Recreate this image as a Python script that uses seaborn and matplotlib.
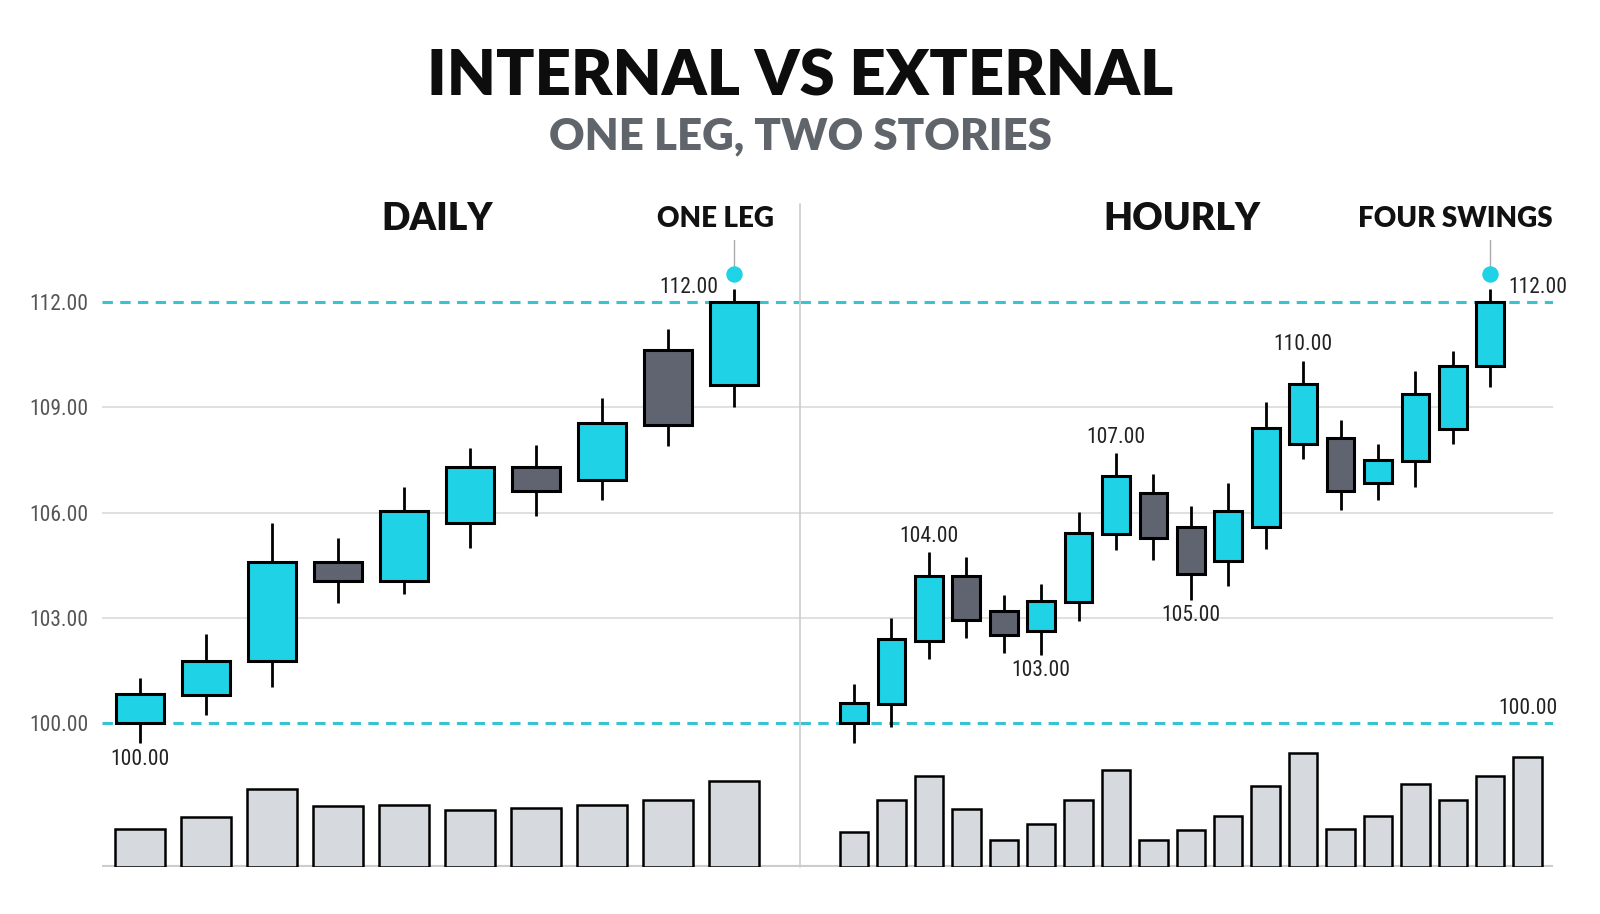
import numpy as np
import pandas as pd
import matplotlib
matplotlib.use("Agg")
import matplotlib.pyplot as plt
import seaborn as sns

# daily candles (open, high, low, close)
daily_open = [100.00, 100.81, 101.76, 104.60, 104.05, 105.70, 107.29, 106.92, 110.63, 109.63]
daily_high = [101.29, 102.54, 105.71, 105.26, 106.72, 107.84, 107.91, 109.26, 111.23, 112.36]
daily_low = [99.42, 100.24, 101.04, 103.42, 103.68, 104.99, 105.89, 106.37, 107.89, 109.00]
daily_close = [100.83, 101.78, 104.59, 104.05, 106.03, 107.30, 106.62, 108.54, 108.50, 112.00]
daily_vol = [113, 150, 235, 182, 187, 171, 177, 185, 201, 258]

# hourly candles
hourly_open = [100.00, 100.53, 102.34, 104.20, 103.19, 102.62, 103.45, 105.40, 106.56,
               105.58, 104.61, 105.60, 107.95, 108.13, 106.84, 107.47, 108.37, 110.16]
hourly_high = [101.12, 102.98, 104.87, 104.74, 103.65, 103.96, 106.01, 107.69, 107.11,
               106.19, 106.84, 109.14, 110.32, 108.63, 107.94, 110.02, 110.60, 112.38]
hourly_low = [99.42, 99.90, 101.82, 102.43, 101.99, 101.95, 102.91, 104.94, 104.65,
              103.51, 103.90, 104.97, 107.53, 106.06, 106.37, 106.74, 107.94, 109.58]
hourly_close = [100.56, 102.39, 104.20, 102.93, 102.50, 103.47, 105.42, 107.05, 105.28,
                104.24, 106.03, 108.41, 109.65, 106.62, 107.51, 109.38, 110.18, 112.00]
hourly_vol = [104, 201, 273, 174, 80, 129, 201, 291, 80, 111, 153, 243, 343, 114,
              153, 250, 201, 273, 329]

levels = [100.0, 112.0]
grid_ticks = [100, 103, 106, 109, 112]

# swing labels: (candle index, "high"/"low", text)
daily_marks = [(0, "low", "100.00")]
hourly_marks = [(2, "high", "104.00"), (5, "low", "103.00"), (7, "high", "107.00"),
                (9, "low", "105.00"), (12, "high", "110.00")]

CYAN = "#1fd2e6"
DARK = "#5f6470"
LINE = "#38c3d0"
NARROW = ["Liberation Sans Narrow", "Roboto Condensed", "DejaVu Sans"]
BOLD = ["Lato", "DejaVu Sans"]
num_font = dict(family=NARROW, stretch="condensed")
NUM_SIZE = 15.5

sns.set_theme(style="white")
plt.rcParams["font.family"] = ["Lato", "DejaVu Sans"]

fig = plt.figure(figsize=(16, 9.14), dpi=100)
W, H = 1568, 896


def box(x0, y0, x1, y1):
    return [x0 / W, 1 - y1 / H, (x1 - x0) / W, (y1 - y0) / H]


ax_d = fig.add_axes(box(100, 190, 784, 735))
ax_h = fig.add_axes(box(784, 190, 1522, 735), sharey=ax_d)
vax_d = fig.add_axes(box(100, 730, 784, 850))
vax_h = fig.add_axes(box(784, 730, 1522, 850))

d_xlim = (-0.572, 10.0)
h_xlim = (-1.445, 18.68)


def candles(ax, o, h, l, c, width):
    o, h, l, c = map(np.asarray, (o, h, l, c))
    x = np.arange(len(o))
    up = c >= o
    cols = np.where(up, CYAN, DARK)
    ax.vlines(x, l, h, color="black", lw=2, zorder=3)
    ax.bar(x, np.abs(c - o), bottom=np.minimum(o, c), width=width,
           color=cols, edgecolor="black", linewidth=2.2, zorder=4)


for ax in (ax_d, ax_h):
    ax.set_facecolor("none")
    for t in grid_ticks[1:-1]:
        ax.axhline(t, color="#dddddd", lw=1.3, zorder=1)
    for lv in levels:
        ax.axhline(lv, color=LINE, lw=2.2, ls=(0, (3.4, 2.4)), zorder=2)
    ax.set_ylim(99.24, 115.08)
    ax.tick_params(left=False, bottom=False, labelbottom=False)
    sns.despine(ax=ax, left=True, bottom=True)

candles(ax_d, daily_open, daily_high, daily_low, daily_close, 0.72)
candles(ax_h, hourly_open, hourly_high, hourly_low, hourly_close, 0.74)
ax_d.set_xlim(*d_xlim)
ax_h.set_xlim(*h_xlim)

ax_d.set_yticks(grid_ticks)
ax_d.set_yticklabels([f"{t:.2f}" for t in grid_ticks], fontsize=NUM_SIZE, color="#555555", **num_font)
ax_d.tick_params(axis="y", pad=10, length=0)
ax_h.tick_params(labelleft=False)


def swing_labels(ax, marks, highs, lows):
    for i, side, txt in marks:
        if side == "high":
            ax.annotate(txt, (i, highs[i]), xytext=(0, 4), textcoords="offset points",
                        ha="center", va="bottom", fontsize=NUM_SIZE, color="#222222", **num_font)
        else:
            ax.annotate(txt, (i, lows[i]), xytext=(0, -4), textcoords="offset points",
                        ha="center", va="top", fontsize=NUM_SIZE, color="#222222", **num_font)


swing_labels(ax_d, daily_marks, daily_high, daily_low)
swing_labels(ax_h, hourly_marks, hourly_high, hourly_low)

# top labels
n_d, n_h = len(daily_close) - 1, len(hourly_close) - 1
ax_d.annotate(f"{levels[1]:.2f}", (n_d, levels[1]), xytext=(-11, 3), textcoords="offset points",
              ha="right", va="bottom", fontsize=NUM_SIZE, color="#222222", **num_font)
ax_h.annotate(f"{levels[1]:.2f}", (n_h, levels[1]), xytext=(13, 3), textcoords="offset points",
              ha="left", va="bottom", fontsize=NUM_SIZE, color="#222222",
              annotation_clip=False, **num_font)
ax_h.annotate(f"{levels[0]:.2f}", (h_xlim[1], levels[0]), xytext=(3, 3), textcoords="offset points",
              ha="right", va="bottom", fontsize=NUM_SIZE, color="#222222",
              annotation_clip=False, **num_font)

# markers for the leg top
for ax, n in ((ax_d, n_d), (ax_h, n_h)):
    ax.plot([n, n], [112.8, 113.75], color="#aaaaaa", lw=1, zorder=2, clip_on=False)
    ax.scatter([n], [112.8], s=140, color=CYAN, zorder=5, clip_on=False, linewidths=0)

# volume
for vax, vol, xl in ((vax_d, daily_vol, d_xlim), (vax_h, hourly_vol, h_xlim)):
    df = pd.DataFrame({"i": np.arange(len(vol)), "v": vol})
    sns.barplot(data=df, x="i", y="v", ax=vax, color="#d6d9de", saturation=1,
                edgecolor="black", linewidth=1.8, width=0.76)
    vax.set_xlim(*xl)
    vax.set_ylim(0, 367)
    vax.set_facecolor("none")
    vax.set_xlabel("")
    vax.set_ylabel("")
    vax.set_xticks([])
    vax.set_yticks([])
    sns.despine(ax=vax, left=True, bottom=True)
    vax.axhline(0, color="#cccccc", lw=3, zorder=0)

# divider
fig.add_artist(plt.Line2D([784 / W, 784 / W], [1 - 850 / H, 1 - 200 / H],
                          color="#cccccc", lw=1.2))

# headers
fig.text(428 / W, 1 - 215 / H, "DAILY", ha="center", va="center", fontsize=27,
         fontweight="heavy", family=BOLD, color="#111111")
fig.text(701 / W, 1 - 215 / H, "ONE LEG", ha="center", va="center", fontsize=20,
         fontweight="heavy", family=BOLD, color="#111111")
fig.text(1158 / W, 1 - 215 / H, "HOURLY", ha="center", va="center", fontsize=27,
         fontweight="heavy", family=BOLD, color="#111111")
fig.text(1426 / W, 1 - 215 / H, "FOUR SWINGS", ha="center", va="center", fontsize=20,
         fontweight="heavy", family=BOLD, color="#111111")

fig.text(0.5, 1 - 75 / H, "INTERNAL VS EXTERNAL", ha="center", va="center", fontsize=45.5,
         fontweight="heavy", family=BOLD, color="#0d0d0d")
fig.text(0.5, 1 - 134 / H, "ONE LEG, TWO STORIES", ha="center", va="center", fontsize=31.5,
         fontweight="heavy", family=BOLD, color="#60646b")

fig.savefig("out.png", dpi=100, facecolor="white")
